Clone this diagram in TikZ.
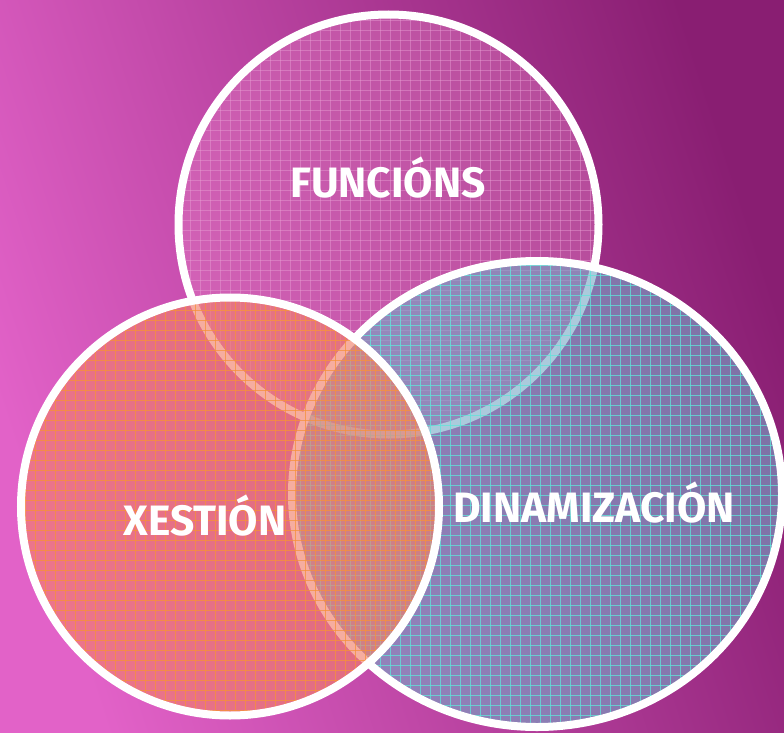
\documentclass[tikz,border=0pt]{standalone}
\usepackage{fontspec}
\setmainfont{Fira Sans}
\definecolor{bgL}{HTML}{E262C8}
\definecolor{bgR}{HTML}{891E72}
\definecolor{topfill}{HTML}{E07CC0}
\definecolor{topgrid}{HTML}{E8A0D4}
\definecolor{leftfill}{HTML}{F2806A}
\definecolor{leftgrid}{HTML}{F7913A}
\definecolor{rightfill}{HTML}{74A8C6}
\definecolor{rightgrid}{HTML}{5EE6DA}
\tikzset{
  ring/.style={draw=white, line width=8pt},
  label/.style={text=white, font=\fontsize{42.5}{42.5}\selectfont\bfseries, inner sep=0pt, anchor=base}
}
\begin{document}
\begin{tikzpicture}[x=1pt,y=-1pt]
\useasboundingbox (0,0) rectangle (784,733);
\shade[shading=axis, bottom color=bgL, top color=bgR, shading angle=-72] (0,0) rectangle (784,733);
% top circle
\begin{scope}
  \clip (388.5,224.5) circle (210);
  \fill[topfill, opacity=0.42] (170,10) rectangle (610,440);
  \foreach \i in {0,...,44} {
    \draw[topgrid, line width=0.7pt, opacity=0.45] (170+10*\i,10) -- (170+10*\i,440);
    \draw[topgrid, line width=0.7pt, opacity=0.45] (170,10+10*\i) -- (610,10+10*\i);
  }
\end{scope}
\draw[ring] (388.5,224.5) circle (210);
% right circle
\begin{scope}
  \clip (537,494) ellipse (245 and 233);
  \fill[rightfill, opacity=0.6] (290,255) rectangle (784,733);
  \foreach \i in {0,...,50} {
    \draw[rightgrid, line width=0.75pt, opacity=0.75] (290+10*\i,255) -- (290+10*\i,733);
    \draw[rightgrid, line width=0.75pt, opacity=0.75] (290,255+10*\i) -- (784,255+10*\i);
  }
\end{scope}
\draw[ring] (537,494) ellipse (245 and 233);
% left circle
\begin{scope}
  \clip (230,506.5) circle (209);
  \fill[leftfill, opacity=0.64] (15,290) rectangle (445,722);
  \foreach \i in {0,...,44} {
    \draw[leftgrid, line width=0.75pt, opacity=0.75] (15+10*\i,290) -- (15+10*\i,722);
    \draw[leftgrid, line width=0.75pt, opacity=0.75] (15,290+10*\i) -- (445,290+10*\i);
  }
\end{scope}
\draw[ring] (230,506.5) circle (209);
% labels
\node[label] (funcions) at (388,197) {FUNCIÓNS};
\node[label] (xestion) at (205,535) {XESTIÓN};
\node[label] (dinam) at (594,522) {DINAMIZACIÓN};
\end{tikzpicture}
\end{document}
